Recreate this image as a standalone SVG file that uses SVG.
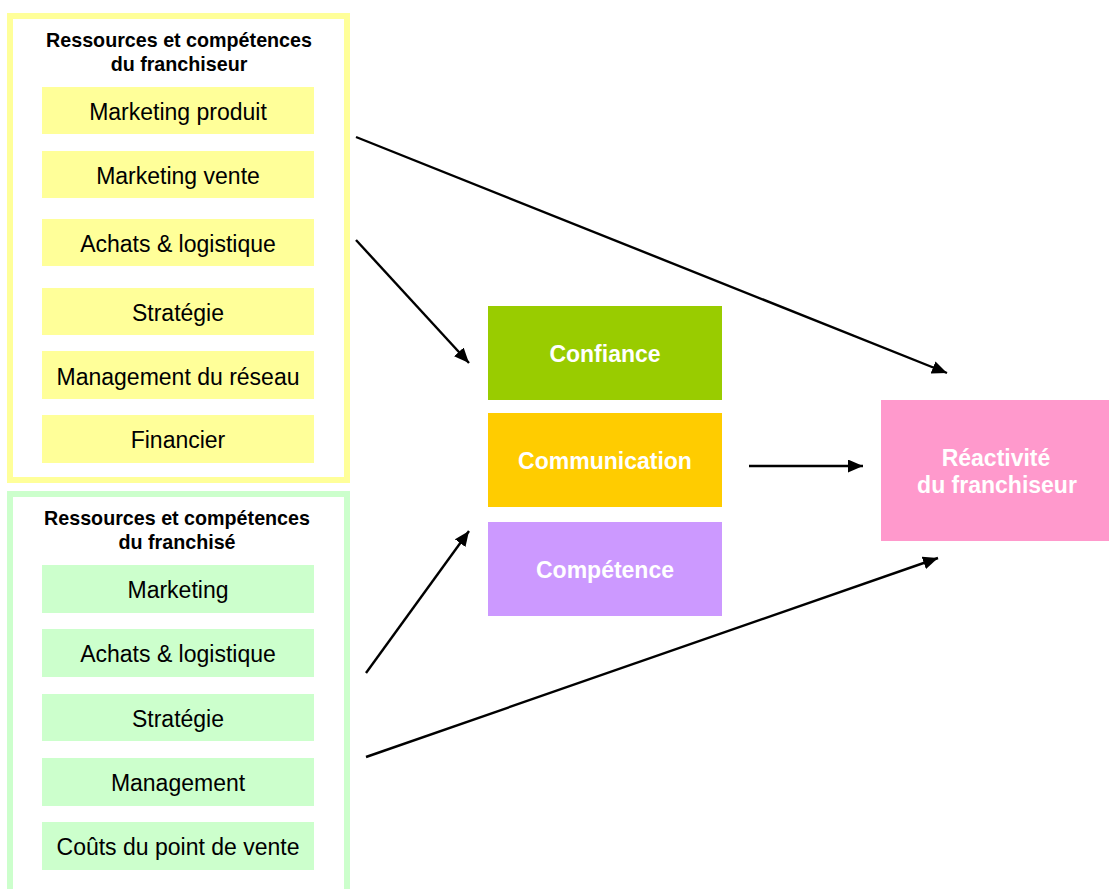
<svg xmlns="http://www.w3.org/2000/svg" width="1109" height="889" viewBox="0 0 1109 889">
<style>
  text { font-family: "Liberation Sans", Arial, sans-serif; text-anchor: middle; }
  .title { font-size: 19.7px; font-weight: bold; fill: #000; }
  .item { font-size: 23px; fill: #000; }
  .big { font-size: 23px; font-weight: bold; fill: #fff; }
  .yl { fill: #FFFF99; }
  .gr { fill: #CCFFCC; }
  .conn { stroke: #000; stroke-width: 2.4; fill: none; marker-end: url(#arr); }
</style>
<defs>
  <marker id="arr" markerUnits="userSpaceOnUse" markerWidth="15" markerHeight="13" viewBox="0 0 15 13" refX="15" refY="6.5" orient="auto">
    <path d="M0,0 L15,6.5 L0,13 z" fill="#000"/>
  </marker>
</defs>
<rect width="1109" height="889" fill="#fff"/>

<g id="franchiseur">
  <rect x="10" y="16" width="337" height="464" fill="none" stroke="#FFFF99" stroke-width="6"/>
  <text class="title" x="179" y="47">Ressources et compétences</text>
  <text class="title" x="179" y="71">du franchiseur</text>
  <g id="f-marketing-produit"><rect class="yl" x="42" y="87" width="272" height="47"/><text class="item" x="178" y="120">Marketing produit</text></g>
  <g id="f-marketing-vente"><rect class="yl" x="42" y="151" width="272" height="47"/><text class="item" x="178" y="184">Marketing vente</text></g>
  <g id="f-achats"><rect class="yl" x="42" y="219" width="272" height="47"/><text class="item" x="178" y="252">Achats &amp; logistique</text></g>
  <g id="f-strategie"><rect class="yl" x="42" y="288" width="272" height="47"/><text class="item" x="178" y="321">Stratégie</text></g>
  <g id="f-management"><rect class="yl" x="42" y="351" width="272" height="48"/><text class="item" x="178" y="385">Management du réseau</text></g>
  <g id="f-financier"><rect class="yl" x="42" y="415" width="272" height="48"/><text class="item" x="178" y="448">Financier</text></g>
</g>

<g id="franchise">
  <rect x="10" y="494" width="337" height="420" fill="none" stroke="#CCFFCC" stroke-width="6"/>
  <text class="title" x="177" y="525">Ressources et compétences</text>
  <text class="title" x="177" y="549">du franchisé</text>
  <g id="g-marketing"><rect class="gr" x="42" y="565" width="272" height="48"/><text class="item" x="178" y="598">Marketing</text></g>
  <g id="g-achats"><rect class="gr" x="42" y="629" width="272" height="48"/><text class="item" x="178" y="662">Achats &amp; logistique</text></g>
  <g id="g-strategie"><rect class="gr" x="42" y="694" width="272" height="47"/><text class="item" x="178" y="727">Stratégie</text></g>
  <g id="g-management"><rect class="gr" x="42" y="758" width="272" height="48"/><text class="item" x="178" y="791">Management</text></g>
  <g id="g-couts"><rect class="gr" x="42" y="822" width="272" height="48"/><text class="item" x="178" y="855">Coûts du point de vente</text></g>
</g>

<g id="confiance"><rect x="488" y="306" width="234" height="94" fill="#99CC00"/><text class="big" x="605" y="362">Confiance</text></g>
<g id="communication"><rect x="488" y="413" width="234" height="94" fill="#FFCC00"/><text class="big" x="605" y="469">Communication</text></g>
<g id="competence"><rect x="488" y="522" width="234" height="94" fill="#CC99FF"/><text class="big" x="605" y="578">Compétence</text></g>

<g id="reactivite"><rect x="881" y="400" width="228" height="141" fill="#FF99CC"/>
  <text class="big" x="996" y="466">Réactivité</text>
  <text class="big" x="997" y="493">du franchiseur</text>
</g>

<g id="connectors">
  <line class="conn" x1="356" y1="137" x2="947" y2="373"/>
  <line class="conn" x1="356" y1="240" x2="469" y2="363"/>
  <line class="conn" x1="366" y1="673" x2="469" y2="531"/>
  <line class="conn" x1="366" y1="757" x2="938" y2="558"/>
  <line class="conn" x1="749" y1="466" x2="863" y2="466"/>
</g>
</svg>
